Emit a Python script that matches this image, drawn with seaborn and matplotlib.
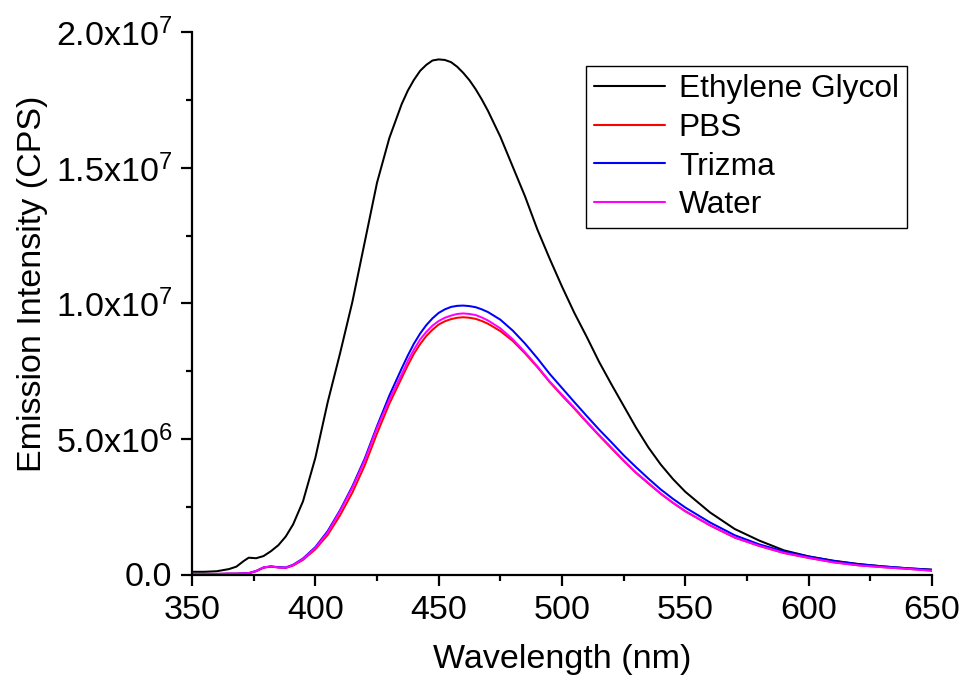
import matplotlib
matplotlib.use("Agg")
import matplotlib.pyplot as plt
import matplotlib.ticker as mticker
import seaborn as sns
import pandas as pd
import numpy as np

# ---------------- data (intensities in units of 1e6 CPS) ----------------
wavelength = [350, 355, 360, 365, 368, 371, 373, 376, 379, 382, 385, 388, 391, 395,
              400, 405, 410, 415, 420, 425, 430, 435, 437.5, 440, 442.5, 445, 447.5, 450,
              452.5, 455, 457.5, 460, 462.5, 465, 467.5,
              470, 475, 480, 485, 490, 495, 500, 505, 510, 515, 520, 525, 530, 535,
              540, 545, 550, 560, 570, 580, 590, 600, 610, 620, 630, 640, 650]

ethylene_glycol = [0.10, 0.10, 0.12, 0.20, 0.29, 0.50, 0.62, 0.60, 0.68, 0.86, 1.08, 1.40, 1.85, 2.70,
                   4.30, 6.35, 8.15, 10.05, 12.25, 14.45, 16.10, 17.35, 17.85, 18.25, 18.58, 18.80, 18.96, 19.00,
                   18.98, 18.90, 18.73, 18.50, 18.23, 17.90, 17.52,
                   17.10, 16.15, 15.05, 13.95, 12.73, 11.65, 10.62, 9.65, 8.77, 7.85, 7.02, 6.22, 5.42, 4.69,
                   4.06, 3.52, 3.05, 2.29, 1.68, 1.25, 0.89, 0.67, 0.51, 0.39, 0.30, 0.23, 0.18]

pbs = [0.02, 0.02, 0.02, 0.03, 0.03, 0.04, 0.05, 0.12, 0.25, 0.29, 0.26, 0.24, 0.33, 0.54,
       0.93, 1.46, 2.18, 3.02, 4.02, 5.20, 6.30, 7.25, 7.72, 8.15, 8.50, 8.80, 9.03, 9.22,
       9.34, 9.42, 9.47, 9.49, 9.47, 9.43, 9.35,
       9.25, 8.98, 8.62, 8.16, 7.65, 7.10, 6.60, 6.12, 5.62, 5.13, 4.66, 4.19, 3.75, 3.36,
       2.98, 2.64, 2.33, 1.81, 1.36, 1.05, 0.79, 0.61, 0.45, 0.34, 0.27, 0.21, 0.14]

trizma = [0.02, 0.02, 0.02, 0.03, 0.03, 0.04, 0.05, 0.13, 0.26, 0.30, 0.27, 0.26, 0.36, 0.59,
          1.01, 1.60, 2.37, 3.25, 4.27, 5.47, 6.60, 7.60, 8.08, 8.52, 8.89, 9.20, 9.45, 9.65,
          9.78, 9.87, 9.91, 9.92, 9.90, 9.86, 9.78,
          9.68, 9.40, 9.00, 8.52, 7.98, 7.40, 6.88, 6.36, 5.85, 5.35, 4.88, 4.40, 3.96, 3.54,
          3.14, 2.79, 2.47, 1.92, 1.45, 1.11, 0.85, 0.66, 0.50, 0.38, 0.30, 0.23, 0.17]

water = [0.02, 0.02, 0.02, 0.03, 0.03, 0.04, 0.05, 0.13, 0.26, 0.30, 0.26, 0.25, 0.35, 0.57,
         0.98, 1.55, 2.33, 3.20, 4.20, 5.40, 6.45, 7.38, 7.88, 8.30, 8.67, 8.95, 9.18, 9.35,
         9.47, 9.55, 9.61, 9.63, 9.61, 9.57, 9.48,
         9.37, 9.08, 8.68, 8.20, 7.68, 7.12, 6.63, 6.15, 5.64, 5.15, 4.68, 4.21, 3.76, 3.38,
         2.99, 2.65, 2.34, 1.82, 1.37, 1.06, 0.80, 0.62, 0.45, 0.34, 0.27, 0.21, 0.14]

series_names = ["Ethylene Glycol", "PBS", "Trizma", "Water"]
series_values = [ethylene_glycol, pbs, trizma, water]
series_colors = ["#000000", "#ff0000", "#0000ff", "#ff00ff"]

x_ticks = [350, 400, 450, 500, 550, 600, 650]
y_ticks = [0.0, 5.0e6, 1.0e7, 1.5e7, 2.0e7]

# ---------------- build long-form table ----------------
frames = []
for name, vals in zip(series_names, series_values):
    frames.append(pd.DataFrame({
        "Wavelength": wavelength,
        "Intensity": np.array(vals) * 1e6,
        "Solvent": name,
    }))
df = pd.concat(frames, ignore_index=True)

# ---------------- style ----------------
sns.set_style("ticks")
plt.rcParams["font.family"] = ["Liberation Sans", "DejaVu Sans"]
plt.rcParams["mathtext.fontset"] = "custom"
plt.rcParams["mathtext.rm"] = "Liberation Sans"
plt.rcParams["mathtext.default"] = "regular"
plt.rcParams["text.color"] = "black"
plt.rcParams["axes.labelcolor"] = "black"
plt.rcParams["xtick.color"] = "black"
plt.rcParams["ytick.color"] = "black"

fig = plt.figure(figsize=(9.64, 6.81), dpi=100)
ax = fig.add_axes([192 / 964, 1 - 574.5 / 681, 740 / 964, 542.2 / 681])

sns.lineplot(data=df, x="Wavelength", y="Intensity", hue="Solvent",
             hue_order=series_names, palette=dict(zip(series_names, series_colors)),
             linewidth=1.45, ax=ax, sort=False, estimator=None)
for ln in ax.get_lines():
    ln.set_solid_joinstyle("round")

ax.set_xlim(350, 650)
ax.set_ylim(0, 2.0e7)

sns.despine(ax=ax)
for sp in ["left", "bottom"]:
    ax.spines[sp].set_linewidth(1.6)
    ax.spines[sp].set_color("black")

ax.set_xticks(x_ticks)
ax.set_yticks(y_ticks)
ax.xaxis.set_minor_locator(mticker.MultipleLocator(25))
ax.yaxis.set_minor_locator(mticker.MultipleLocator(2.5e6))


def sci_fmt(v, pos):
    if v == 0:
        return "0.0"
    e = int(np.floor(np.log10(abs(v))))
    m = v / 10 ** e
    return f"{m:.1f}x10$^{{{e}}}$"


ax.yaxis.set_major_formatter(mticker.FuncFormatter(sci_fmt))

ax.tick_params(axis="both", which="major", direction="out", length=8, width=1.6,
               labelsize=24.5, pad=6, colors="black")
ax.tick_params(axis="both", which="minor", direction="out", length=4, width=1.6, colors="black")
ax.tick_params(axis="x", which="major", pad=7)

ax.set_xlabel("Wavelength (nm)", fontsize=24.5)
ax.set_ylabel("Emission Intensity (CPS)", fontsize=24.5)
ax.xaxis.set_label_coords(0.5, -0.128)
ax.yaxis.set_label_coords(-0.195, 0.536)

leg = ax.legend(loc="upper left", bbox_to_anchor=(0.532, 0.938), borderaxespad=0,
                fontsize=22.8, frameon=True, fancybox=False, shadow=False,
                handlelength=2.24, handletextpad=0.45, labelspacing=0.28,
                borderpad=0.25, title=None)
leg.get_frame().set_edgecolor("black")
leg.get_frame().set_linewidth(1.0)
leg.get_frame().set_alpha(1)
for line in leg.get_lines():
    line.set_linewidth(1.5)

fig.savefig("out.png", dpi=100)
